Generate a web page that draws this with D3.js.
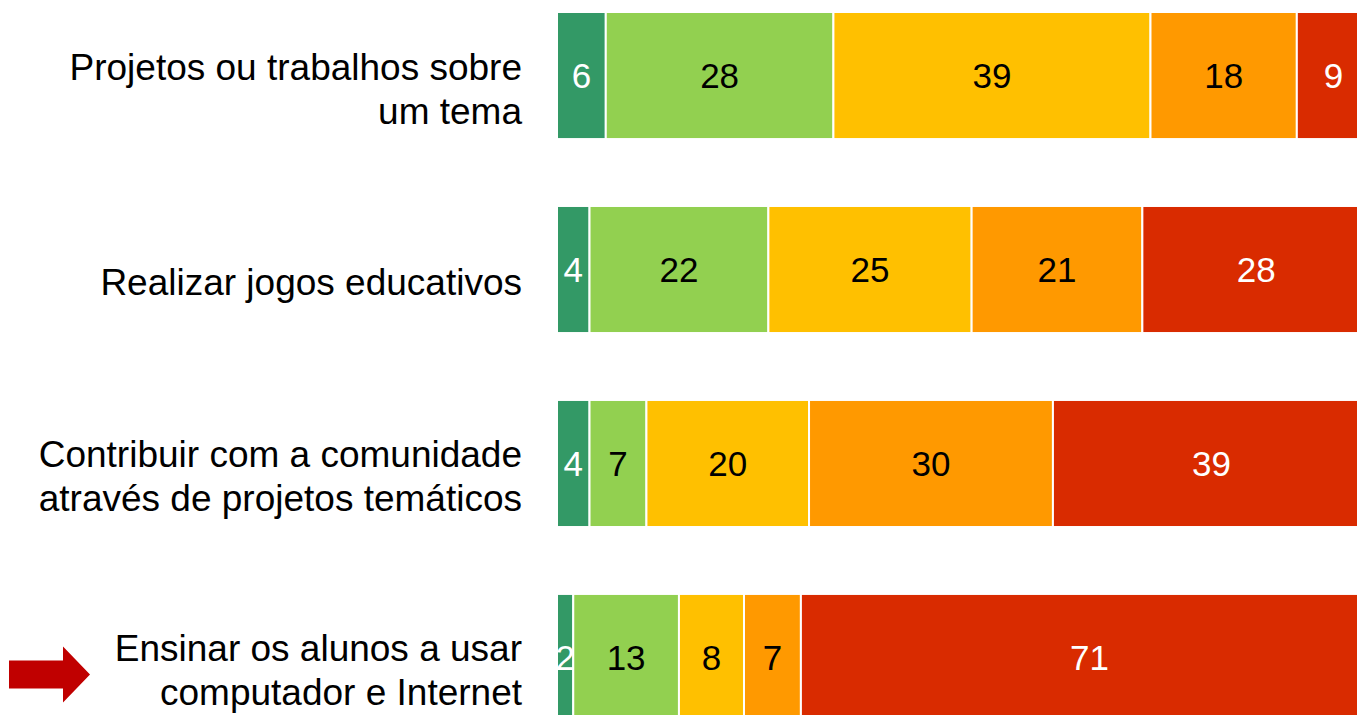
<!DOCTYPE html>
<html>
<head>
<meta charset="utf-8">
<script src="https://cdn.jsdelivr.net/npm/d3@7"></script>
<style>
  html, body { margin: 0; padding: 0; background: #fff; overflow: hidden; }
  svg { display: block; font-family: "Liberation Sans", Arial, sans-serif; }
</style>
</head>
<body>
<div id="chart"></div>
<script>
// categories, top to bottom (each split over two lines where the original wraps)
const categories = [
  'Projetos ou trabalhos sobre|um tema',
  'Realizar jogos educativos',
  'Contribuir com a comunidade|através de projetos temáticos',
  'Ensinar os alunos a usar|computador e Internet'
];

// the five answer levels, left to right
const seriesKeys = ['s1', 's2', 's3', 's4', 's5'];
const seriesColors = ['#339966', '#92d050', '#ffc000', '#ff9900', '#d92b00'];
const labelColors = ['#fff', '#000', '#000', '#000', '#fff'];

const s1 = [6, 4, 4, 2];
const s2 = [28, 22, 7, 13];
const s3 = [39, 25, 20, 8];
const s4 = [18, 21, 30, 7];
const s5 = [9, 28, 39, 71];

// the row that gets the red arrow
const highlighted = 3;

const width = 1357;
const height = 715;

const rows = categories.map((c, i) => ({
  cat: c, s1: s1[i], s2: s2[i], s3: s3[i], s4: s4[i], s5: s5[i]
}));

const stack = d3.stack().keys(seriesKeys);
const stacked = stack(rows);

// bars run past the right edge of the picture, as in the original
const x = d3.scaleLinear().domain([0, 100]).range([557, 1370]);
const y = d3.scaleBand()
  .domain(categories)
  .range([12, 721])
  .paddingInner(0.345)
  .paddingOuter(0);

const svg = d3.select('#chart').append('svg')
  .attr('width', width)
  .attr('height', height);

const layers = svg.append('g')
  .selectAll('g')
  .data(stacked)
  .join('g')
  .attr('fill', (d, i) => seriesColors[i]);

layers.selectAll('rect')
  .data(d => d)
  .join('rect')
  .attr('x', d => x(d[0]))
  .attr('y', d => y(d.data.cat))
  .attr('width', d => x(d[1]) - x(d[0]))
  .attr('height', y.bandwidth())
  .attr('stroke', '#fff')
  .attr('stroke-width', 2);

// value labels in the middle of each segment
layers.selectAll('text')
  .data((d, i) => d.map(p => ({ p, i })))
  .join('text')
  .attr('x', d => (x(d.p[0]) + x(d.p[1])) / 2)
  .attr('y', d => y(d.p.data.cat) + y.bandwidth() / 2 + 12.5)
  .attr('text-anchor', 'middle')
  .attr('font-size', '35px')
  .attr('fill', d => labelColors[d.i])
  .text(d => d.p[1] - d.p[0]);

// category labels, right aligned next to the bars
const catLabels = svg.append('g')
  .selectAll('text')
  .data(categories)
  .join('text')
  .attr('text-anchor', 'end')
  .attr('font-size', '37px')
  .attr('fill', '#000');

catLabels.each(function (c) {
  const lines = c.split('|');
  const mid = y(c) + y.bandwidth() / 2;
  const first = lines.length === 1 ? mid + 25 : mid + 4;
  d3.select(this).selectAll('tspan')
    .data(lines)
    .join('tspan')
    .attr('x', 522)
    .attr('y', (l, j) => first + j * 44)
    .text(l => l);
});

// red arrow pointing at the highlighted row
const ay = y(categories[highlighted]) + y.bandwidth() / 2 + 17;
svg.append('path')
  .attr('fill', '#c00000')
  .attr('d', `M9,${ay - 14} L63,${ay - 14} L63,${ay - 28} L90,${ay} L63,${ay + 28} L63,${ay + 14} L9,${ay + 14} Z`);
</script>
</body>
</html>
